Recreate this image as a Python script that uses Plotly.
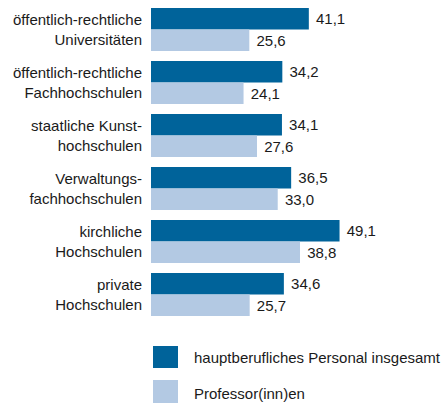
import plotly.graph_objects as go

categories = [
    "öffentlich-rechtliche<br>Universitäten",
    "öffentlich-rechtliche<br>Fachhochschulen",
    "staatliche Kunst-<br>hochschulen",
    "Verwaltungs-<br>fachhochschulen",
    "kirchliche<br>Hochschulen",
    "private<br>Hochschulen",
]
personal = [41.1, 34.2, 34.1, 36.5, 49.1, 34.6]
professoren = [25.6, 24.1, 27.6, 33.0, 38.8, 25.7]
series_names = ["hauptberufliches Personal insgesamt", "Professor(inn)en"]
colors = ["#00639a", "#b3c9e3"]

W, H = 444, 403
L, R, T, B = 151, 0, 3, 82
pw, ph = W - L - R, H - T - B

font = dict(family="Liberation Sans, Arial, sans-serif", size=15, color="#1a1a1a")

fig = go.Figure()
for name, vals, c in zip(series_names, [personal, professoren], colors):
    fig.add_trace(go.Bar(
        y=categories, x=vals, orientation="h", name=name,
        marker=dict(color=c, line=dict(width=0)),
        texttemplate=" %{x:.1f}", textposition="outside",
        textfont=font, cliponaxis=False, showlegend=False,
        hoverinfo="skip",
    ))

def px_x(X):
    return (X - L) / pw

def px_y(Y):
    return (T + ph - Y) / ph

shapes = []
annotations = []
leg = [(346, 368, 357), (380, 403, 393)]
for (y0, y1, ty), name, c in zip(leg, series_names, colors):
    shapes.append(dict(type="rect", xref="paper", yref="paper",
                       x0=px_x(153), x1=px_x(178), y0=px_y(y1), y1=px_y(y0),
                       fillcolor=c, line=dict(width=0)))
    annotations.append(dict(xref="paper", yref="paper", x=px_x(192), y=px_y(ty),
                            text=name, showarrow=False, xanchor="left",
                            yanchor="middle", font=font))

fig.update_layout(
    width=W, height=H,
    margin=dict(l=L, r=R, t=T, b=B, pad=0, autoexpand=False),
    barmode="group", bargap=0.189, bargroupgap=0,
    separators=",.",
    paper_bgcolor="white", plot_bgcolor="white",
    font=font,
    xaxis=dict(range=[0, 76.3], visible=False, fixedrange=True, automargin=False),
    yaxis=dict(autorange="reversed", showgrid=False, showline=False, ticks="",
               ticklabelstandoff=8, tickfont=font, zeroline=False, automargin=False,
               fixedrange=True),
    shapes=shapes, annotations=annotations,
)
fig.write_html("out.html", config={"displayModeBar": False},
               post_script="document.body.style.margin='0';document.body.style.padding='0';")
